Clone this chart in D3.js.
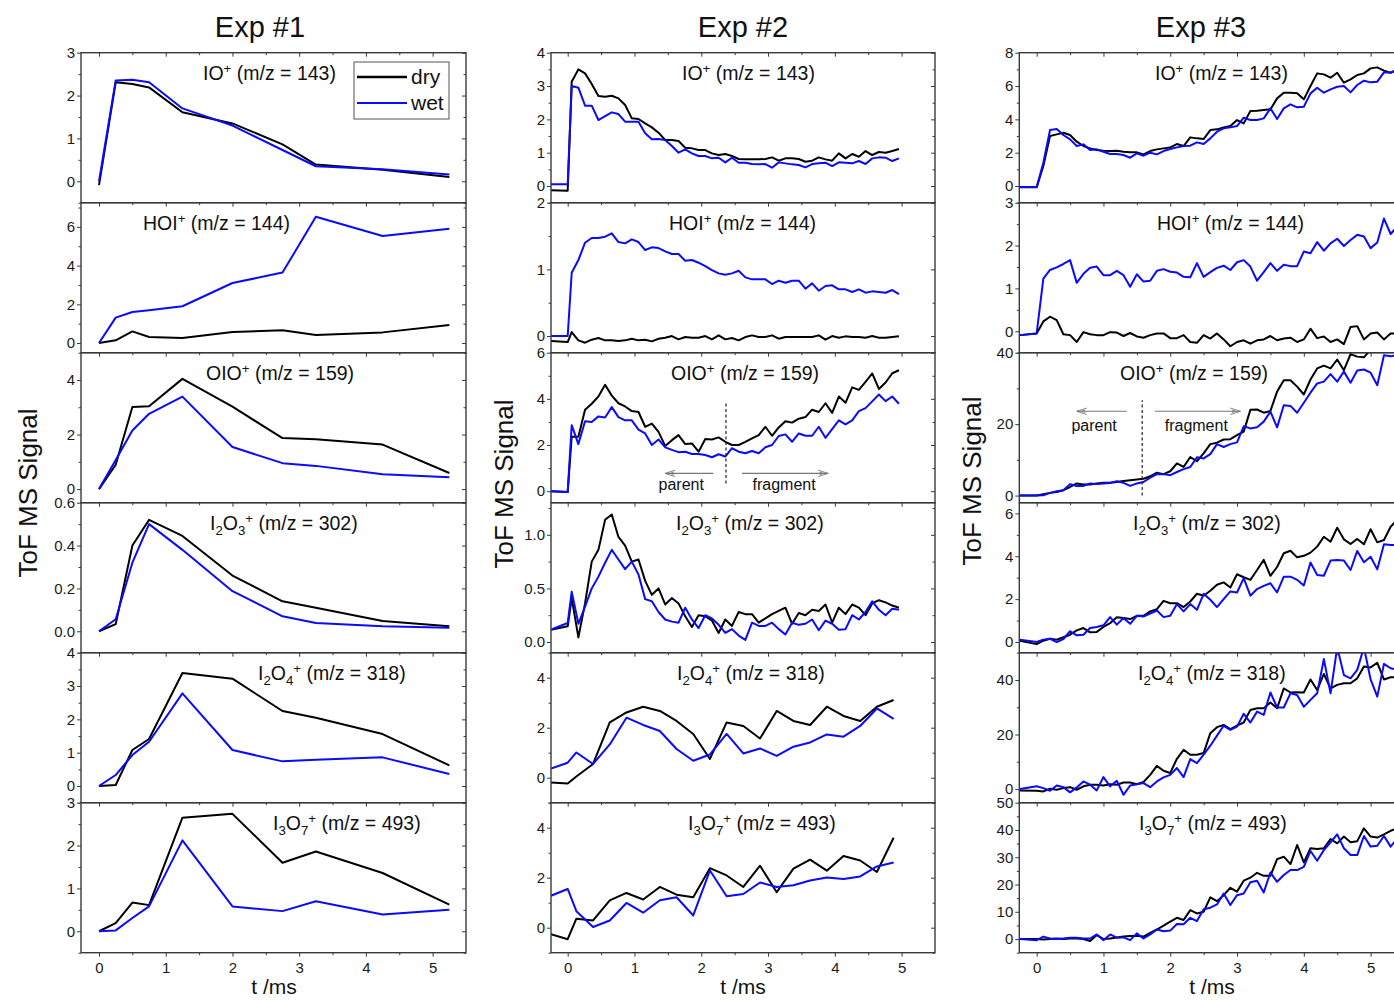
<!DOCTYPE html>
<html>
<head>
<meta charset="utf-8">
<script src="https://cdn.jsdelivr.net/npm/d3@7"></script>
<style>
  body { margin: 0; background: #fff; }
  text { font-family: "Liberation Sans", Arial, sans-serif; }
</style>
</head>
<body>
<div id="chart"></div>
<script>
// ---- time grids (ms) ----
const t1 = [0, 0.25, 0.5, 0.75, 1.25, 2, 2.75, 3.25, 4.25, 5.25];
const t2 = [-0.25, 0, 0.06, 0.16, 0.26, 0.36, 0.46, 0.56, 0.66, 0.76, 0.86, 0.96, 1.06, 1.16, 1.26, 1.36,
  1.46, 1.56, 1.66, 1.76, 1.86, 1.96, 2.06, 2.16, 2.26, 2.36, 2.46, 2.56, 2.66, 2.76, 2.86, 2.96, 3.06,
  3.16, 3.26, 3.36, 3.46, 3.56, 3.66, 3.76, 3.86, 3.96, 4.06, 4.16, 4.26, 4.36, 4.46, 4.56, 4.66, 4.76,
  4.86, 4.96];
const t2s = [-0.25, 0, 0.13, 0.38, 0.63, 0.88, 1.13, 1.38, 1.63, 1.88, 2.13, 2.38, 2.63, 2.88, 3.13,
  3.38, 3.63, 3.88, 4.13, 4.38, 4.63, 4.88];
const t3 = [-0.25, 0, 0.1, 0.2, 0.3, 0.4, 0.5, 0.6, 0.7, 0.8, 0.9, 1.0, 1.1, 1.2, 1.3, 1.4, 1.5, 1.6,
  1.7, 1.8, 1.9, 2.0, 2.1, 2.2, 2.3, 2.4, 2.5, 2.6, 2.7, 2.8, 2.9, 3.0, 3.1, 3.2, 3.3, 3.4, 3.5, 3.6,
  3.7, 3.8, 3.9, 4.0, 4.1, 4.2, 4.3, 4.4, 4.5, 4.6, 4.7, 4.8, 4.9, 5.0, 5.1, 5.2, 5.3, 5.4];

// ---- Exp #1 ----
const e1_IO_dry = [-0.09, 2.31, 2.27, 2.19, 1.61, 1.35, 0.86, 0.39, 0.27, 0.10];
const e1_IO_wet = [0.0, 2.35, 2.37, 2.31, 1.70, 1.30, 0.73, 0.35, 0.28, 0.16];
const e1_HOI_dry = [0, 0.14, 0.60, 0.31, 0.26, 0.57, 0.66, 0.41, 0.55, 0.93];
const e1_HOI_wet = [0, 1.31, 1.60, 1.69, 1.90, 3.10, 3.64, 6.52, 5.53, 5.90];
const e1_OIO_dry = [0, 0.89, 3.01, 3.04, 4.04, 3.02, 1.87, 1.83, 1.63, 0.59];
const e1_OIO_wet = [0, 1.07, 2.15, 2.76, 3.39, 1.54, 0.95, 0.85, 0.54, 0.43];
const e1_I2O3_dry = [0, 0.033, 0.40, 0.52, 0.445, 0.26, 0.14, 0.11, 0.048, 0.023];
const e1_I2O3_wet = [0, 0.056, 0.32, 0.50, 0.38, 0.187, 0.07, 0.039, 0.023, 0.017];
const e1_I2O4_dry = [0, 0.03, 1.08, 1.41, 3.39, 3.22, 2.25, 2.05, 1.56, 0.62];
const e1_I2O4_wet = [0, 0.33, 0.93, 1.33, 2.78, 1.08, 0.74, 0.79, 0.86, 0.36];
const e1_I3O7_dry = [0, 0.19, 0.67, 0.61, 2.65, 2.74, 1.60, 1.86, 1.36, 0.62];
const e1_I3O7_wet = [0, 0.02, 0.31, 0.58, 2.12, 0.58, 0.47, 0.70, 0.39, 0.50];

// ---- Exp #2 ----
const e2_IO_dry = [-0.13, -0.14, 3.13, 3.5, 3.38, 3.06, 2.7, 2.68, 2.71, 2.63, 2.43, 2.03, 2.01, 1.88,
  1.76, 1.6, 1.38, 1.38, 1.35, 1.15, 1.13, 1.08, 1.08, 0.98, 0.93, 0.96, 0.9, 0.81, 0.8, 0.8, 0.8, 0.81,
  0.86, 0.76, 0.83, 0.83, 0.81, 0.73, 0.76, 0.86, 0.8, 0.76, 0.98, 0.83, 0.96, 0.88, 1.05, 0.93, 1.02,
  1.0, 1.05, 1.11];
const e2_IO_wet = [0.05, 0.05, 3.0, 2.95, 2.41, 2.41, 1.98, 2.1, 2.21, 2.16, 1.93, 1.93, 1.93, 1.58,
  1.4, 1.41, 1.38, 1.2, 1.0, 1.1, 0.98, 0.9, 0.9, 0.83, 0.85, 0.71, 0.85, 0.7, 0.7, 0.66, 0.65, 0.66,
  0.55, 0.71, 0.68, 0.65, 0.63, 0.56, 0.66, 0.68, 0.7, 0.6, 0.71, 0.7, 0.68, 0.75, 0.66, 0.83, 0.86,
  0.85, 0.75, 0.83];
const e2_HOI_dry = [-0.075, -0.09, 0.06, -0.065, -0.1, -0.055, -0.03, -0.065, -0.065, -0.075, -0.065,
  -0.04, -0.065, -0.055, -0.08, -0.04, -0.025, 0, -0.05, -0.015, -0.025, -0.025, 0, -0.05, 0.01, -0.05,
  -0.03, -0.065, -0.015, 0.01, -0.015, -0.015, 0.01, -0.04, -0.015, -0.015, -0.015, -0.015, -0.015,
  0.01, -0.055, 0, -0.025, -0.005, -0.015, -0.015, -0.025, 0, -0.025, -0.025, -0.015, -0.005];
const e2_HOI_wet = [0, 0, 0.95, 1.14, 1.40, 1.47, 1.47, 1.49, 1.54, 1.41, 1.39, 1.45, 1.41, 1.29, 1.33,
  1.32, 1.27, 1.23, 1.23, 1.13, 1.14, 1.10, 1.05, 0.99, 0.94, 0.92, 0.94, 0.98, 0.88, 0.85, 0.85, 0.85,
  0.78, 0.83, 0.80, 0.83, 0.83, 0.71, 0.79, 0.68, 0.75, 0.76, 0.70, 0.70, 0.66, 0.70, 0.65, 0.67, 0.66,
  0.65, 0.69, 0.63];
const e2_OIO_dry = [0, -0.04, 2.36, 2.36, 3.53, 3.79, 4.1, 4.61, 4.14, 3.81, 3.67, 3.47, 3.43, 2.79,
  2.93, 2.57, 1.96, 2.21, 2.43, 2.04, 2.07, 1.71, 2.26, 2.24, 2.33, 2.14, 2.0, 2.0, 2.14, 2.29, 2.43,
  2.79, 2.4, 2.76, 3.03, 2.97, 3.14, 3.21, 3.53, 3.43, 3.81, 3.39, 4.1, 3.83, 4.5, 4.39, 4.74, 5.1, 4.43,
  4.71, 5.11, 5.24];
const e2_OIO_wet = [0, -0.04, 2.86, 2.04, 3.03, 3.0, 3.24, 3.19, 3.64, 3.21, 3.07, 3.07, 2.67, 2.5, 2.0,
  2.24, 1.9, 1.79, 1.69, 1.71, 1.61, 1.61, 1.57, 1.47, 1.6, 1.5, 1.86, 1.71, 1.64, 1.74, 1.64, 1.9, 2.0,
  2.39, 2.46, 2.14, 2.5, 2.4, 2.4, 2.79, 2.31, 2.69, 3.07, 2.89, 3.07, 3.47, 3.6, 3.89, 4.19, 3.9, 4.1,
  3.79];
const e2_I2O3_dry = [0.115, 0.146, 0.41, 0.043, 0.36, 0.75, 0.86, 1.14, 1.19, 0.98, 0.90, 0.75, 0.77,
  0.57, 0.44, 0.50, 0.35, 0.41, 0.36, 0.24, 0.14, 0.25, 0.24, 0.20, 0.084, 0.21, 0.15, 0.28, 0.26, 0.26,
  0.18, 0.22, 0.26, 0.29, 0.32, 0.17, 0.27, 0.25, 0.30, 0.29, 0.35, 0.18, 0.32, 0.26, 0.35, 0.32, 0.25,
  0.36, 0.39, 0.37, 0.34, 0.32];
const e2_I2O3_wet = [0.115, 0.177, 0.47, 0.17, 0.33, 0.50, 0.61, 0.74, 0.86, 0.77, 0.68, 0.75, 0.63,
  0.40, 0.38, 0.28, 0.21, 0.19, 0.18, 0.32, 0.21, 0.13, 0.25, 0.22, 0.16, 0.084, 0.12, 0.06, 0.02, 0.18,
  0.15, 0.15, 0.18, 0.12, 0.07, 0.18, 0.16, 0.17, 0.21, 0.11, 0.20, 0.17, 0.115, 0.12, 0.25, 0.21, 0.28,
  0.38, 0.30, 0.25, 0.31, 0.30];
const e2_I2O4_dry = [-0.19, -0.23, 0.05, 0.55, 2.21, 2.61, 2.84, 2.67, 2.27, 1.75, 0.75, 2.21, 2.07,
  1.57, 2.67, 2.27, 2.11, 2.84, 2.47, 2.27, 2.84, 3.11];
const e2_I2O4_wet = [0.37, 0.6, 1.01, 0.55, 1.33, 2.4, 2.11, 1.87, 1.15, 0.68, 0.93, 1.75, 0.97, 1.17,
  0.87, 1.24, 1.41, 1.73, 1.64, 2.07, 2.77, 2.35];
const e2_I3O7_dry = [-0.26, -0.46, 0.36, 0.29, 1.09, 1.39, 1.13, 1.63, 1.32, 1.22, 2.38, 2.09, 1.63,
  2.48, 1.42, 2.36, 2.72, 2.28, 2.87, 2.69, 2.23, 3.60];
const e2_I3O7_wet = [1.28, 1.55, 0.66, 0.03, 0.29, 0.99, 0.6, 1.1, 1.22, 0.49, 2.29, 1.26, 1.35, 1.81,
  1.63, 1.7, 1.89, 2.01, 1.95, 2.05, 2.45, 2.61];

// ---- Exp #3 ----
const e3_IO_dry = [-0.08, -0.08, 1.2, 3.0, 3.1, 3.2, 3.06, 2.66, 2.4, 2.26, 2.16, 2.12, 2.1, 2.12, 2.06,
  2.02, 2.02, 1.9, 2.1, 2.2, 2.26, 2.32, 2.52, 2.4, 2.92, 2.86, 2.82, 3.36, 3.4, 3.52, 3.6, 3.96, 3.76,
  4.5, 4.52, 4.56, 4.6, 5.26, 5.6, 5.6, 5.56, 5.2, 6.0, 6.76, 6.7, 6.5, 6.8, 6.2, 6.4, 6.66, 6.76, 7.06,
  7.12, 6.92, 6.8, 7.0];
const e3_IO_wet = [-0.06, -0.06, 1.4, 3.36, 3.42, 3.06, 2.8, 2.4, 2.5, 2.16, 2.2, 2.06, 1.92, 1.92,
  1.86, 1.7, 1.96, 1.82, 2.0, 1.9, 2.1, 2.22, 2.32, 2.4, 2.42, 2.62, 2.52, 2.86, 3.26, 3.46, 3.52, 3.6,
  4.1, 3.96, 3.96, 4.06, 4.66, 4.02, 4.66, 4.9, 4.72, 4.76, 5.56, 5.9, 5.6, 5.8, 5.96, 6.0, 5.62, 6.06,
  6.32, 6.22, 6.26, 6.82, 6.8, 6.96];
const e3_HOI_dry = [-0.09, -0.05, 0.23, 0.34, 0.26, -0.07, -0.09, -0.25, -0.02, -0.07, -0.09, -0.09,
  -0.02, -0.03, -0.11, -0.04, -0.12, -0.15, -0.09, -0.05, -0.05, -0.16, -0.16, -0.09, -0.25, -0.27,
  -0.09, -0.17, -0.05, -0.19, -0.35, -0.25, -0.21, -0.29, -0.21, -0.19, -0.11, -0.21, -0.17, -0.15,
  -0.25, -0.19, 0.06, -0.16, -0.12, -0.25, -0.19, -0.30, 0.10, 0.12, -0.19, -0.05, -0.03, -0.19, -0.05,
  -0.05];
const e3_HOI_wet = [-0.09, -0.05, 1.23, 1.43, 1.49, 1.57, 1.66, 1.13, 1.34, 1.48, 1.51, 1.31, 1.31,
  1.41, 1.31, 1.04, 1.33, 1.16, 1.18, 1.41, 1.45, 1.39, 1.37, 1.27, 1.26, 1.59, 1.27, 1.38, 1.48, 1.53,
  1.43, 1.61, 1.66, 1.51, 1.18, 1.38, 1.59, 1.41, 1.55, 1.52, 1.52, 1.86, 1.82, 2.08, 1.88, 2.05, 2.16,
  1.99, 2.13, 2.25, 2.21, 1.94, 2.07, 2.63, 2.27, 2.45];
const e3_OIO_dry = [0, 0, 0.37, 0.75, 1.0, 1.5, 2.4, 3.4, 3.1, 3.1, 3.4, 3.6, 3.6, 3.8, 4.1, 4.3, 4.5,
  4.7, 5.4, 6.4, 6.0, 6.8, 9.0, 8.0, 10.8, 9.6, 11.8, 14.4, 14.8, 15.7, 15.8, 16.9, 17.9, 24, 24.1, 23.2,
  23.7, 29.1, 32.3, 32.3, 30.5, 28.3, 32.5, 35.6, 36.4, 35.6, 38.1, 35.1, 39.6, 38.9, 38.7, 40.9, 41.7,
  42.1, 42.5, 43];
const e3_OIO_wet = [0, 0, 0.1, 0.75, 1.2, 1.5, 3.2, 2.7, 2.7, 3.4, 3.2, 3.4, 3.55, 4.0, 3.55, 2.7, 3.4,
  3.8, 5.0, 6.0, 6.0, 5.7, 6.6, 7.4, 8.0, 10.7, 10.4, 11.6, 14.4, 13.6, 14.4, 14.9, 19.4, 18.8, 19.1,
  20.7, 23.5, 19.1, 25.3, 25.1, 23.2, 26.0, 28.8, 31.4, 31.9, 34.0, 31.9, 34.7, 31.6, 35.0, 35.3, 34.4,
  30.9, 39.3, 39.0, 39.3];
const e3_I2O3_dry = [0.06, -0.1, 0.06, 0.15, 0.11, 0.22, 0.34, 0.54, 0.65, 0.45, 0.47, 0.70, 0.88, 1.15,
  1.12, 1.07, 1.22, 1.22, 1.43, 1.53, 1.92, 1.81, 1.81, 1.63, 1.89, 2.25, 2.16, 2.39, 2.67, 2.78, 2.54,
  3.16, 3.02, 2.9, 3.36, 3.83, 3.09, 3.5, 4.14, 4.26, 3.95, 4.02, 4.17, 4.45, 4.91, 4.68, 5.33, 4.79,
  4.57, 4.81, 4.56, 5.26, 4.65, 4.76, 5.38, 5.7];
const e3_I2O3_wet = [0.11, 0, 0.11, 0.15, 0, 0.14, 0.5, 0.31, 0.34, 0.65, 0.70, 0.78, 1.16, 0.81, 1.12,
  0.85, 1.22, 1.19, 1.32, 1.47, 1.16, 1.22, 1.77, 1.43, 1.77, 1.5, 2.25, 1.97, 1.63, 2.0, 2.36, 2.31,
  2.98, 2.16, 2.47, 2.62, 2.74, 2.31, 3.05, 3.05, 2.9, 2.64, 3.71, 3.13, 3.09, 3.8, 3.83, 3.8, 3.36, 4.25,
  3.72, 3.98, 3.39, 4.56, 4.53, 4.53];
const e3_I2O4_dry = [-0.5, -0.6, -0.85, 0.1, -0.25, 0.35, 0.7, -0.25, 1.0, 1.6, 1.6, 1.3, 1.8, 1.6, 2.4,
  2.4, 1.8, 2.6, 5.2, 8.5, 6.7, 5.9, 11.1, 14.4, 12.6, 12.6, 13.2, 20.5, 22.7, 23.5, 22.0, 23.3, 24.4,
  29.0, 29.6, 29.6, 31.7, 29.6, 36.9, 35.4, 35.5, 35.4, 40.2, 36.3, 42.2, 36.9, 38.2, 38.8, 38.8, 40.6,
  44.9, 44.6, 46.3, 40.2, 41.0, 41.0];
const e3_I2O4_wet = [0, 1.0, 0.35, -0.6, 1.3, 0.7, -1.2, 0.6, 2.8, 1.6, -0.5, 4.4, 1.0, 3.0, -2.1, 1.3,
  1.8, 2.2, 0.7, 2.8, 4.3, 5.2, 7.7, 4.4, 11.0, 9.5, 12.6, 15.9, 19.6, 23.2, 21.7, 22.9, 27.6, 24.4,
  28.4, 27.2, 35.4, 29.9, 29.9, 35.1, 34.5, 30.2, 32.7, 35.1, 47.7, 35.1, 52, 41.8, 40.6, 43.7, 52, 40.2,
  33.9, 45.9, 44.3, 43.7];
const e3_I3O7_dry = [0, 0, -0.2, 0, 0.2, 0, 0.2, 0.2, 0, -0.7, 1.5, 0, 0.2, 0.6, 0.9, 1.1, 1.2, 0.9,
  2.3, 3.5, 4.9, 6.4, 7.8, 7.0, 10.6, 9.4, 10.0, 15.3, 13.9, 16.1, 18.8, 17.4, 21.4, 22.5, 24.3, 23.2,
  23.2, 29.3, 30.2, 27.5, 34.5, 28.1, 33.3, 33.0, 33.3, 36.7, 35.1, 37.6, 35.5, 35.9, 40.6, 37.6, 37.2,
  38.4, 39.7, 40.6];
const e3_I3O7_wet = [0, -0.4, 0.9, 0.2, 0, 0.2, 0.5, 0.5, 0.2, 0.2, 1.7, -0.4, 1.7, 0.5, 0.6, -0.4, 2.1,
  0.2, 1.7, 3.5, 2.9, 3.1, 5.5, 5.4, 7.8, 6.6, 10.9, 11.5, 12.7, 16.7, 12.5, 16.1, 16.7, 20.8, 21.4, 17.1,
  24.4, 21.0, 23.5, 25.3, 25.3, 26.5, 32.3, 28.7, 32.6, 35.5, 38.4, 33.3, 30.8, 30.8, 37.8, 33.9, 34.2,
  37.8, 33.9, 36.9];

// ---- axes ----
const titles = ['Exp #1', 'Exp #2', 'Exp #3'];
const xTicks = [0, 1, 2, 3, 4, 5];
const xMinor = [0.5, 1.5, 2.5, 3.5, 4.5];
const yDomains = [
  [[-0.5, 3], [-0.5, 7.25], [-0.5, 5], [-0.1, 0.6], [-0.5, 4], [-0.5, 3]],
  [[-0.5, 4], [-0.25, 2], [-0.5, 6], [-0.1, 1.3], [-1, 5], [-1, 5]],
  [[-1, 8], [-0.5, 3], [-2, 40], [-0.5, 6.5], [-5, 50], [-5, 50]]
];
const yTicks = [
  [[0, 1, 2, 3], [0, 2, 4, 6], [0, 2, 4], [0, 0.2, 0.4, 0.6], [0, 1, 2, 3, 4], [0, 1, 2, 3]],
  [[0, 1, 2, 3, 4], [0, 1, 2], [0, 2, 4, 6], [0, 0.5, 1.0], [0, 2, 4], [0, 2, 4]],
  [[0, 2, 4, 6, 8], [0, 1, 2, 3], [0, 20, 40], [0, 2, 4, 6], [0, 20, 40], [0, 10, 20, 30, 40, 50]]
];
const labelParts = [
  [['IO', ''], ['+', 'sup'], [' (m/z = 143)', '']],
  [['HOI', ''], ['+', 'sup'], [' (m/z = 144)', '']],
  [['OIO', ''], ['+', 'sup'], [' (m/z = 159)', '']],
  [['I', ''], ['2', 'sub'], ['O', ''], ['3', 'sub'], ['+', 'sup'], [' (m/z = 302)', '']],
  [['I', ''], ['2', 'sub'], ['O', ''], ['4', 'sub'], ['+', 'sup'], [' (m/z = 318)', '']],
  [['I', ''], ['3', 'sub'], ['O', ''], ['7', 'sub'], ['+', 'sup'], [' (m/z = 493)', '']]
];

const series = [
  [[t1, e1_IO_dry, e1_IO_wet], [t1, e1_HOI_dry, e1_HOI_wet], [t1, e1_OIO_dry, e1_OIO_wet],
   [t1, e1_I2O3_dry, e1_I2O3_wet], [t1, e1_I2O4_dry, e1_I2O4_wet], [t1, e1_I3O7_dry, e1_I3O7_wet]],
  [[t2, e2_IO_dry, e2_IO_wet], [t2, e2_HOI_dry, e2_HOI_wet], [t2, e2_OIO_dry, e2_OIO_wet],
   [t2, e2_I2O3_dry, e2_I2O3_wet], [t2s, e2_I2O4_dry, e2_I2O4_wet], [t2s, e2_I3O7_dry, e2_I3O7_wet]],
  [[t3, e3_IO_dry, e3_IO_wet], [t3, e3_HOI_dry, e3_HOI_wet], [t3, e3_OIO_dry, e3_OIO_wet],
   [t3, e3_I2O3_dry, e3_I2O3_wet], [t3, e3_I2O4_dry, e3_I2O4_wet], [t3, e3_I3O7_dry, e3_I3O7_wet]]
];

// ---- layout ----
const cols = [
  { left: 81, right: 466, tMin: -0.27, tMax: 5.5, titleX: 260, yLabX: 37, yLabY: 493, xLabX: 274,
    labelX: [203, 143, 206, 210, 258, 273] },
  { left: 551, right: 935, tMin: -0.25, tMax: 5.5, titleX: 743, yLabX: 513, yLabY: 484, xLabX: 743,
    labelX: [682, 669, 671, 676, 677, 688] },
  { left: 1019.3, right: 1404, tMin: -0.26, tMax: 5.5, titleX: 1201, yLabX: 981, yLabY: 481, xLabX: 1212,
    labelX: [1155, 1157, 1120, 1133, 1138, 1139] }
];
const top0 = 52.7, panelH = 150;
const DRY = '#000', WET = '#0a0aff', AXIS = '#3a3a3a';
const FONT = '"Liberation Sans", Arial, sans-serif';

const annots = [
  { col: 1, row: 2, dashT: 2.37, dashY: [0.33, 3.83], arrowY: 0.77, leftA: [2.18, 1.46], rightA: [2.61, 3.9],
    textY: 0.04, parentT: 1.70, fragT: 3.24 },
  { col: 2, row: 2, dashT: 1.58, dashY: [0, 26.7], arrowY: 23.6, leftA: [1.35, 0.6], rightA: [1.77, 3.05],
    textY: 18.1, parentT: 0.86, fragT: 2.39 }
];

const svg = d3.select('#chart').append('svg')
  .attr('width', 1394).attr('height', 1000)
  .style('background', '#fff');

const defs = svg.append('defs');
defs.append('marker')
  .attr('id', 'openArrow')
  .attr('viewBox', '-1 -5 12 10')
  .attr('refX', 10).attr('refY', 0)
  .attr('markerWidth', 12).attr('markerHeight', 10)
  .attr('markerUnits', 'userSpaceOnUse')
  .attr('orient', 'auto')
  .append('path')
  .attr('d', 'M0,-3.2 L10,0 L0,3.2 M1.5,-1.2 L5,0 L1.5,1.2')
  .attr('fill', 'none').attr('stroke', '#777').attr('stroke-width', 0.9);

function drawLabel(g, x, y, parts, size) {
  const t = g.append('text').attr('x', x).attr('y', y)
    .attr('font-size', size).attr('fill', '#111').attr('font-family', FONT);
  let shift = 0;
  parts.forEach(([s, kind]) => {
    const want = kind === 'sub' ? 5 : kind === 'sup' ? -7 : 0;
    t.append('tspan').attr('dy', want - shift)
      .attr('font-size', kind ? '0.68em' : null)
      .text(s);
    shift = want;
  });
}

function styleAxis(g) {
  g.select('.domain').remove();
  g.selectAll('line').attr('stroke', AXIS).attr('stroke-width', 1);
  g.selectAll('text').attr('fill', '#1a1a1a').attr('font-size', 15).attr('font-family', FONT);
}

cols.forEach((c, ci) => {
  const x = d3.scaleLinear().domain([c.tMin, c.tMax]).range([c.left, c.right]);

  // column title and axis titles
  svg.append('text').attr('x', c.titleX).attr('y', 37)
    .attr('text-anchor', 'middle').attr('font-size', 29).attr('font-family', FONT)
    .attr('fill', '#111').text(titles[ci]);
  svg.append('text')
    .attr('transform', `translate(${c.yLabX},${c.yLabY}) rotate(-90)`)
    .attr('text-anchor', 'middle').attr('font-size', 26).attr('font-family', FONT)
    .attr('fill', '#111').text('ToF MS Signal');
  svg.append('text').attr('x', c.xLabX).attr('y', 994)
    .attr('text-anchor', 'middle').attr('font-size', 21).attr('font-family', FONT)
    .attr('fill', '#111').text('t /ms');

  series[ci].forEach(([tt, dry, wet], ri) => {
    const top = top0 + ri * panelH, bottom = top + panelH;
    const y = d3.scaleLinear().domain(yDomains[ci][ri]).range([bottom, top]);
    const g = svg.append('g');

    const clipId = `clip-${ci}-${ri}`;
    defs.append('clipPath').attr('id', clipId)
      .append('rect').attr('x', c.left).attr('y', top)
      .attr('width', c.right - c.left).attr('height', panelH);

    // lines
    const line = d3.line().x(d => x(d[0])).y(d => y(d[1]));
    const lg = g.append('g').attr('clip-path', `url(#${clipId})`);
    lg.append('path').datum(d3.zip(tt, dry))
      .attr('d', line).attr('fill', 'none').attr('stroke', DRY)
      .attr('stroke-width', 2).attr('stroke-linejoin', 'round');
    lg.append('path').datum(d3.zip(tt, wet))
      .attr('d', line).attr('fill', 'none').attr('stroke', WET)
      .attr('stroke-width', 2).attr('stroke-linejoin', 'round');

    // y axes (left, outward; right, inward)
    const ticks = yTicks[ci][ri];
    const step = ticks[1] - ticks[0];
    const dom = yDomains[ci][ri];
    const minor = d3.range(ticks[0] - step / 2, dom[1] + 1e-9, step)
      .filter(v => v >= dom[0] - 1e-9);
    const fmt = step < 1 ? d3.format('.1f') : d3.format('d');

    g.append('g').attr('transform', `translate(${c.left},0)`)
      .call(d3.axisLeft(y).tickValues(ticks).tickSize(4).tickPadding(2).tickFormat(fmt))
      .call(styleAxis);
    g.append('g').attr('transform', `translate(${c.left},0)`)
      .call(d3.axisLeft(y).tickValues(minor).tickSize(2.5).tickFormat(''))
      .call(styleAxis);
    g.append('g').attr('transform', `translate(${c.right},0)`)
      .call(d3.axisRight(y).tickValues(ticks).tickSize(-4).tickFormat(''))
      .call(styleAxis);
    g.append('g').attr('transform', `translate(${c.right},0)`)
      .call(d3.axisRight(y).tickValues(minor).tickSize(-2.5).tickFormat(''))
      .call(styleAxis);

    // top ticks, inward
    g.append('g').attr('transform', `translate(0,${top})`)
      .call(d3.axisTop(x).tickValues(xTicks).tickSize(-4).tickFormat(''))
      .call(styleAxis);
    g.append('g').attr('transform', `translate(0,${top})`)
      .call(d3.axisTop(x).tickValues(xMinor).tickSize(-2.5).tickFormat(''))
      .call(styleAxis);

    if (ri === 5) {
      g.append('g').attr('transform', `translate(0,${bottom})`)
        .call(d3.axisBottom(x).tickValues(xTicks).tickSize(4).tickPadding(6).tickFormat(d3.format('d')))
        .call(styleAxis);
      g.append('g').attr('transform', `translate(0,${bottom})`)
        .call(d3.axisBottom(x).tickValues(xMinor).tickSize(2.5).tickFormat(''))
        .call(styleAxis);
    }

    // frame
    g.append('rect').attr('x', c.left).attr('y', top)
      .attr('width', c.right - c.left).attr('height', panelH)
      .attr('fill', 'none').attr('stroke', AXIS).attr('stroke-width', 1.4);

    drawLabel(g, c.labelX[ri], top + 27, labelParts[ri], 19.5);

    // annotations
    annots.filter(a => a.col === ci && a.row === ri).forEach(a => {
      g.append('line')
        .attr('x1', x(a.dashT)).attr('x2', x(a.dashT))
        .attr('y1', y(a.dashY[0])).attr('y2', y(a.dashY[1]))
        .attr('stroke', '#222').attr('stroke-width', 1.2).attr('stroke-dasharray', '3,2.5');
      [a.leftA, a.rightA].forEach(ar => {
        g.append('line')
          .attr('x1', x(ar[0])).attr('x2', x(ar[1]))
          .attr('y1', y(a.arrowY)).attr('y2', y(a.arrowY))
          .attr('stroke', '#777').attr('stroke-width', 1.1)
          .attr('marker-end', 'url(#openArrow)');
      });
      g.append('text').attr('x', x(a.parentT)).attr('y', y(a.textY))
        .attr('text-anchor', 'middle').attr('font-size', 16).attr('font-family', FONT)
        .attr('fill', '#111').text('parent');
      g.append('text').attr('x', x(a.fragT)).attr('y', y(a.textY))
        .attr('text-anchor', 'middle').attr('font-size', 16).attr('font-family', FONT)
        .attr('fill', '#111').text('fragment');
    });

    // legend (first panel only)
    if (ci === 0 && ri === 0) {
      const lg2 = g.append('g');
      lg2.append('rect').attr('x', 354).attr('y', 62).attr('width', 95).attr('height', 57)
        .attr('fill', '#fff').attr('stroke', '#555').attr('stroke-width', 1);
      [['dry', DRY, 77], ['wet', WET, 103]].forEach(([name, col, ly]) => {
        lg2.append('line').attr('x1', 357).attr('x2', 407).attr('y1', ly).attr('y2', ly)
          .attr('stroke', col).attr('stroke-width', name === 'dry' ? 2.6 : 1.9);
        lg2.append('text').attr('x', 411).attr('y', ly + 7)
          .attr('font-size', 21).attr('font-family', FONT).attr('fill', '#111').text(name);
      });
    }
  });
});
</script>
</body>
</html>
